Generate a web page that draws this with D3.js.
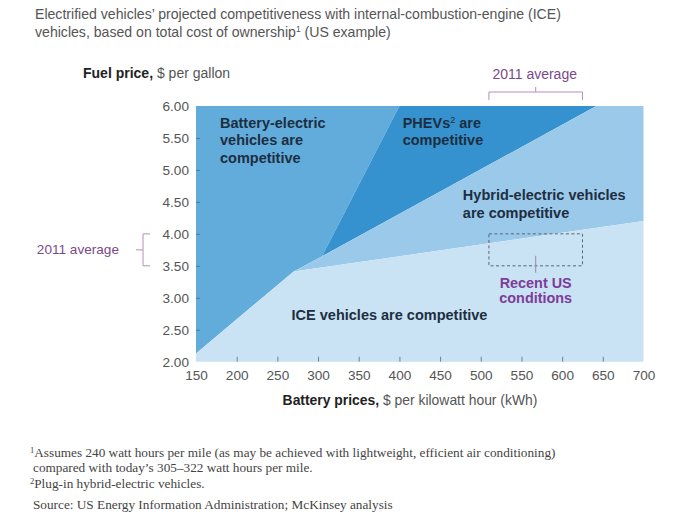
<!DOCTYPE html>
<html><head><meta charset="utf-8">
<script src="https://cdn.jsdelivr.net/npm/d3@7"></script>
<style>
body{margin:0;background:#fff;}
svg{display:block;}
text{font-family:"Liberation Sans",Arial,sans-serif;}
</style></head>
<body>
<svg id="c" width="677" height="523"></svg>
<script>
// ---------- data ----------
const xTicks = [150,200,250,300,350,400,450,500,550,600,650,700];
const yTicks = [2.0,2.5,3.0,3.5,4.0,4.5,5.0,5.5,6.0];
const xDomain = [150,700];
const yDomain = [2,6];
// region boundaries in data units (battery $/kWh, fuel $/gal)
const bevRegion   = [[150,2.13],[150,6.0],[400,6.0],[305,3.65],[270,3.41]];
const phevRegion  = [[305,3.65],[400,6.0],[642,6.0]];
const hybridRegion= [[270,3.41],[305,3.65],[642,6.0],[700,6.0],[700,4.2]];
const iceRegion   = [[150,2.0],[150,2.13],[270,3.41],[700,4.2],[700,2.0]];
const avg2011Battery = [510,625];
const avg2011Fuel = [3.5,4.0];
const regionLabels = [
  {lines:["Battery-electric","vehicles are","competitive"], at:[179.5,5.66]},
  {lines:["PHEVs","competitive"], at:[404,5.66], sup:"2"},
  {lines:["Hybrid-electric vehicles","are competitive"], at:[478,4.53]},
  {lines:["ICE vehicles are competitive"], at:[267.5,2.65]}
];
const colors = {bev:"#62acdb", phev:"#3592cf", hybrid:"#9bc9ea", ice:"#c9e2f4"};

// ---------- layout ----------
const svg = d3.select("#c");
const L=196, R=643.5, T=106, B=361.7;
const x = d3.scaleLinear().domain(xDomain).range([L,R]);
const y = d3.scaleLinear().domain(yDomain).range([B,T]);
const line = d3.line().x(d=>x(d[0])).y(d=>y(d[1]));

// title
const title = svg.append("text").attr("x",35).attr("y",19).attr("fill","#555").style("font-size","14.1px");
title.append("tspan").text("Electrified vehicles\u2019 projected competitiveness with internal-combustion-engine (ICE)");
const t2 = svg.append("text").attr("x",35).attr("y",36.5).attr("fill","#555").style("font-size","14.1px");
t2.append("tspan").text("vehicles, based on total cost of ownership");
t2.append("tspan").text("1").attr("dy",-5).style("font-size","8.5px");
t2.append("tspan").text(" (US example)").attr("dy",5);

// y axis title
const yt = svg.append("text").attr("x",83).attr("y",78).style("font-size","14px");
yt.append("tspan").text("Fuel price,").attr("font-weight","bold").attr("fill","#222");
yt.append("tspan").text(" $ per gallon").attr("fill","#555");

// regions
const g = svg.append("g");
g.append("path").attr("d",line(bevRegion)+"Z").attr("fill",colors.bev);
g.append("path").attr("d",line(phevRegion)+"Z").attr("fill",colors.phev);
g.append("path").attr("d",line(hybridRegion)+"Z").attr("fill",colors.hybrid);
g.append("path").attr("d",line(iceRegion)+"Z").attr("fill",colors.ice);

// axes
const yAxis = svg.append("g").attr("transform",`translate(${L},0)`)
  .call(d3.axisLeft(y).tickValues(yTicks).tickFormat(d3.format(".2f")).tickSize(-4).tickPadding(7));
const xAxis = svg.append("g").attr("transform",`translate(0,${B})`)
  .call(d3.axisBottom(x).tickValues(xTicks).tickFormat(d3.format("d")).tickSize(-5).tickPadding(8.5));
[yAxis,xAxis].forEach(a=>{
  a.select(".domain").remove();
  a.selectAll("text").attr("fill","#555").style("font-size","13.6px").style("font-family","'Liberation Sans',Arial,sans-serif");
  a.selectAll("line").attr("stroke","#4f6b84").attr("stroke-width",1).attr("opacity",0.8);
});
xAxis.selectAll(".tick").filter(d=>d===xDomain[0]||d===xDomain[1]).select("line").remove();
yAxis.selectAll(".tick").filter(d=>d===yDomain[0]||d===yDomain[1]).select("line").remove();

// x axis title
const xt = svg.append("text").attr("x",410).attr("y",405).attr("text-anchor","middle").style("font-size","13.9px");
xt.append("tspan").text("Battery prices,").attr("font-weight","bold").attr("fill","#222");
xt.append("tspan").text(" $ per kilowatt hour (kWh)").attr("fill","#555");

// region labels
regionLabels.forEach(r=>{
  const t = svg.append("text").attr("x",x(r.at[0])).attr("y",y(r.at[1]))
    .attr("fill","#1d2e40").attr("font-weight","bold").style("font-size","14.5px");
  r.lines.forEach((ln,i)=>{
    t.append("tspan").attr("x",x(r.at[0])).attr("dy",i===0?0:17.6).text(ln);
    if(i===0 && r.sup){
      t.append("tspan").text(r.sup).attr("dy",-5).attr("font-weight","normal").style("font-size","9px");
      t.append("tspan").text(" are").attr("dy",5);
    }
  });
});

// recent US conditions box
const purple="#7d3c98";
const bx0=x(avg2011Battery[0]), bx1=x(avg2011Battery[1]);
const by0=y(avg2011Fuel[1]), by1=y(avg2011Fuel[0]);
svg.append("rect").attr("x",bx0).attr("y",by0).attr("width",bx1-bx0).attr("height",by1-by0)
  .attr("fill","none").attr("stroke","#5a6478").attr("stroke-width",1).attr("stroke-dasharray","3,2.5");
const bmx=(bx0+bx1)/2;
svg.append("line").attr("x1",bmx).attr("x2",bmx).attr("y1",by1-10).attr("y2",by1+7).attr("stroke","#8a93a6").attr("stroke-width",1);
const rt = svg.append("text").attr("x",bmx).attr("y",287.5).attr("text-anchor","middle")
  .attr("fill",purple).attr("font-weight","bold").style("font-size","14.4px");
rt.append("tspan").attr("x",bmx).text("Recent US");
rt.append("tspan").attr("x",bmx).attr("dy",15.8).text("conditions");

// top bracket (2011 average battery)
const bc="#b58fb8";
svg.append("path").attr("d",`M${bx0},${T-6}V${T-14}H${bx1}V${T-6}M${bmx},${T-14}V${T-19}`)
  .attr("fill","none").attr("stroke",bc).attr("stroke-width",1);
svg.append("text").attr("x",bmx-1).attr("y",79).attr("text-anchor","middle").attr("fill","#7a4a88")
  .style("font-size","14px").text("2011 average");

// left bracket (2011 average fuel)
svg.append("path").attr("d",`M${150},${by0}H${143}V${by1}H${150}M${143},${(by0+by1)/2}H${136}`)
  .attr("fill","none").attr("stroke",bc).attr("stroke-width",1);
svg.append("text").attr("x",119).attr("y",(by0+by1)/2+4.5).attr("text-anchor","end").attr("fill","#7a4a88")
  .style("font-size","13.6px").text("2011 average");

// footnotes
const fn = [
  {sup:"1", text:"Assumes 240 watt hours per mile (as may be achieved with lightweight, efficient air conditioning)", y:457, x:30},
  {text:"compared with today\u2019s 305\u2013322 watt hours per mile.", y:472, x:33},
  {sup:"2", text:"Plug-in hybrid-electric vehicles.", y:488, x:30},
  {text:"Source: US Energy Information Administration; McKinsey analysis", y:509, x:33}
];
fn.forEach(f=>{
  const t = svg.append("text").attr("x",f.x).attr("y",f.y).attr("fill","#444")
    .style("font-family","'Liberation Serif','Times New Roman',serif").style("font-size","13.25px");
  if(f.sup){
    t.append("tspan").text(f.sup).attr("dy",-4).style("font-size","8.5px");
    t.append("tspan").text(f.text).attr("dy",4);
  } else t.text(f.text);
});
</script>
</body></html>
